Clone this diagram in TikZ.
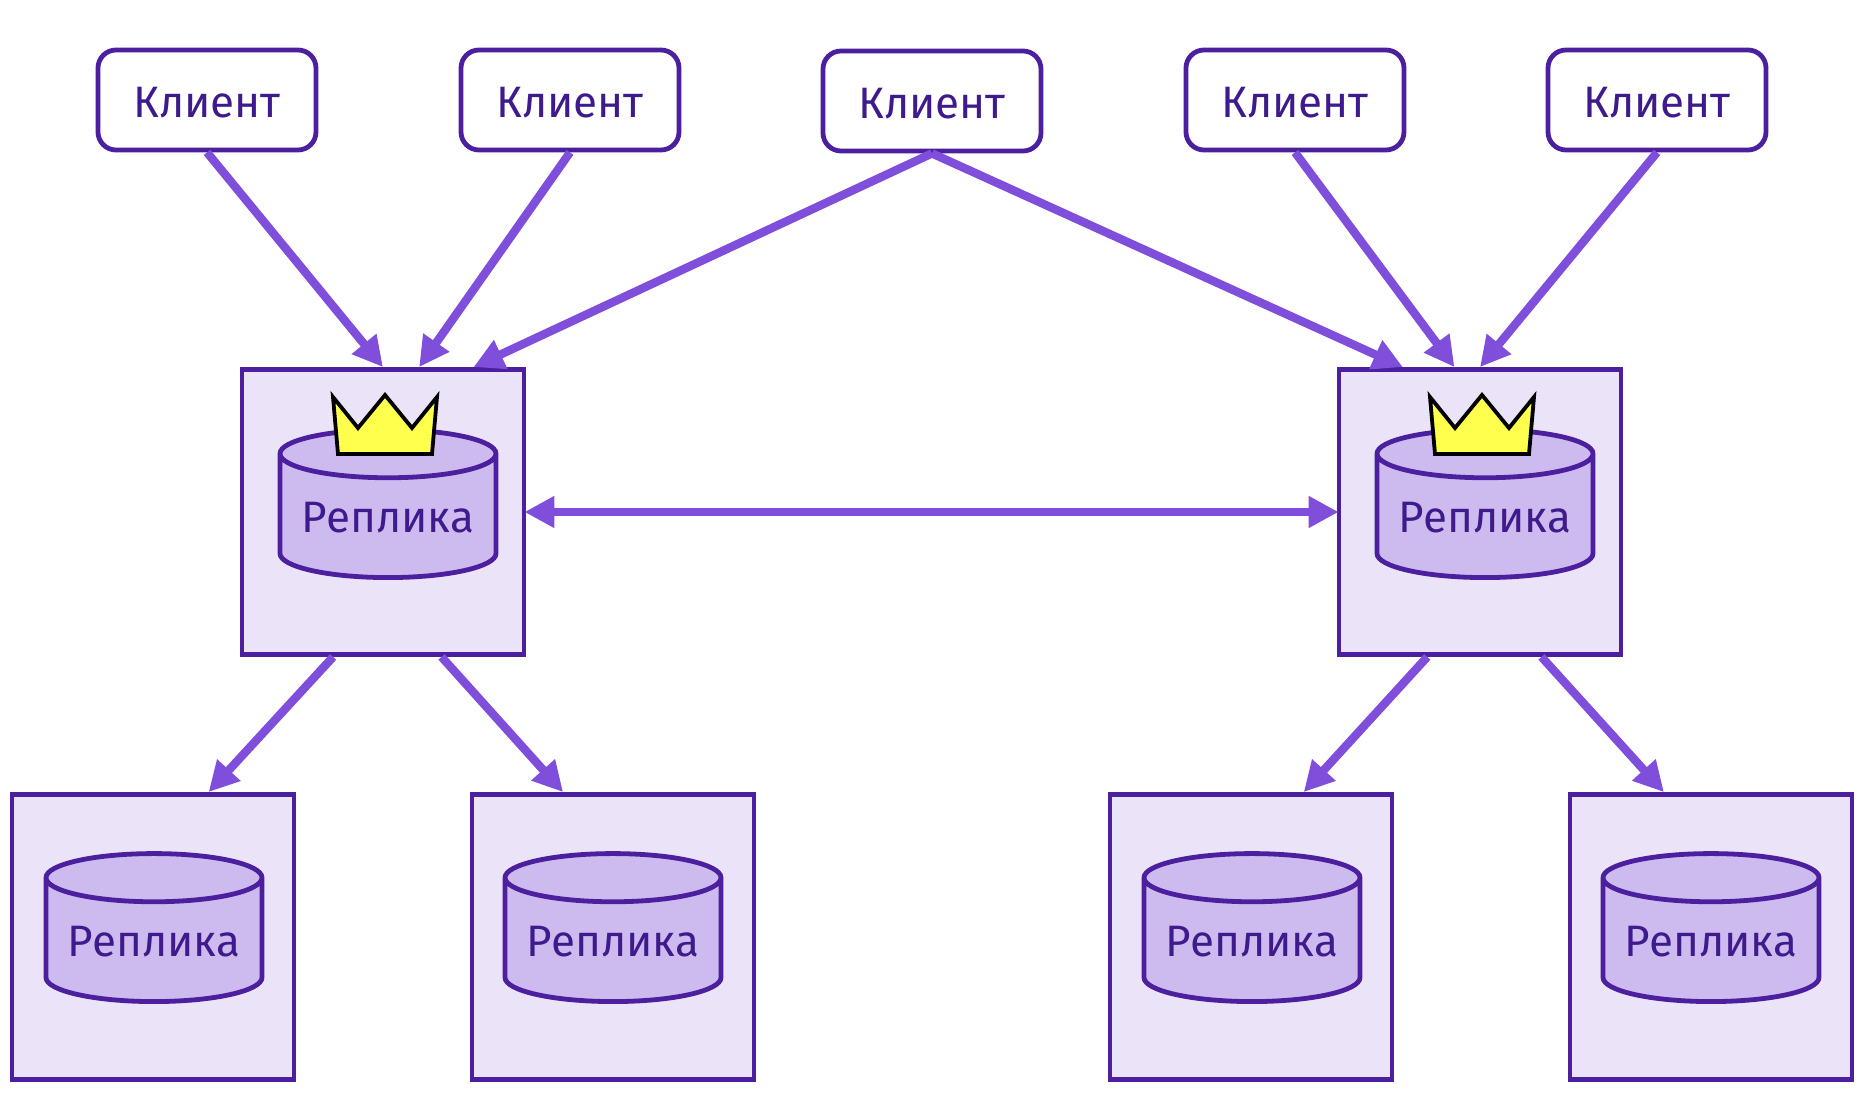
\documentclass[tikz,border=0pt]{standalone}
\usepackage{fontspec}
\setmainfont{Fira Sans}
\usetikzlibrary{arrows.meta,shapes.geometric}
\definecolor{linecol}{HTML}{4B1F9E}
\definecolor{arrowcol}{HTML}{7F4FDB}
\definecolor{textcol}{HTML}{3F1A8C}
\definecolor{hostfill}{HTML}{EBE4F9}
\definecolor{dbfill}{HTML}{CDBBF0}
\definecolor{crownfill}{HTML}{FFFF4D}
\tikzset{
  client/.style={draw=linecol, line width=2.4pt, rounded corners=9pt, fill=white,
    minimum width=109pt, minimum height=50pt, text=textcol, text height=17.5pt, font=\fontsize{22}{26}\selectfont},
  host/.style={draw=linecol, line width=2.4pt, fill=hostfill, minimum width=141pt, minimum height=142.5pt},
  replica/.style={cylinder, shape border rotate=90, aspect=.26, draw=linecol, line width=2.4pt, fill=dbfill,
    minimum width=108pt, minimum height=74pt, text=textcol, text depth=3.5pt, font=\fontsize{22}{26}\selectfont},
  link/.style={-{Triangle[length=15pt,width=15pt]}, draw=arrowcol, line width=4.2pt},
  pics/crown/.style={code={
    \draw[black, line width=1.9pt, fill=crownfill, miter limit=10]
      (-52,-57) -- (-27,-26) -- (0,-59) -- (27,-26) -- (52,-57) -- (47,0) -- (-47,0) -- cycle;
  }}
}
\begin{document}
\begin{tikzpicture}[x=0.5pt, y=-0.5pt]
    \useasboundingbox (0,0) rectangle (1860,1096);
    % clients
    \node[client] (c1) at (207,100) {Клиент};
    \node[client] (c2) at (570,100) {Клиент};
    \node[client] (c3) at (932,101) {Клиент};
    \node[client] (c4) at (1295,100) {Клиент};
    \node[client] (c5) at (1657,100) {Клиент};
    % masters
    \node[host] (s1) at (383,512) {};
    \node[host] (s2) at (1480,512) {};
    \node[replica] (d1) at (388,521) {Реплика};
    \node[replica] (d2) at (1485,521) {Реплика};
    \pic at (385,454) {crown};
    \pic at (1482,454) {crown};
    % slaves
    \node[host] (s3) at (153,937) {};
    \node[host] (s4) at (613,937) {};
    \node[host] (s5) at (1251,937) {};
    \node[host] (s6) at (1711,937) {};
    \node[replica] (d3) at (154,945) {Реплика};
    \node[replica] (d4) at (613,945) {Реплика};
    \node[replica] (d5) at (1252,945) {Реплика};
    \node[replica] (d6) at (1711,945) {Реплика};
    % links
    \draw[link] (c1.south) -- (s1.90);
    \draw[link] (c2.south) -- (s1.76);
    \draw[link] (c3.south) -- (s1.58.6);
    \draw[link] (c3.south) -- (s2.118);
    \draw[link] (c4.south) -- (s2.100.8);
    \draw[link] (c5.south) -- (s2.90);
    \draw[link] (s1.-109.3) -- (s3.69);
    \draw[link] (s1.-68.3) -- (s4.109.5);
    \draw[link] (s2.-110.5) -- (s5.70.9);
    \draw[link] (s2.-67.6) -- (s6.108.6);
    \draw[link, {Triangle[length=15pt,width=15pt]}-{Triangle[length=15pt,width=15pt]}, shorten <=-1pt, shorten >=-1pt] (s1.east) -- (s2.west);
\end{tikzpicture}
\end{document}
